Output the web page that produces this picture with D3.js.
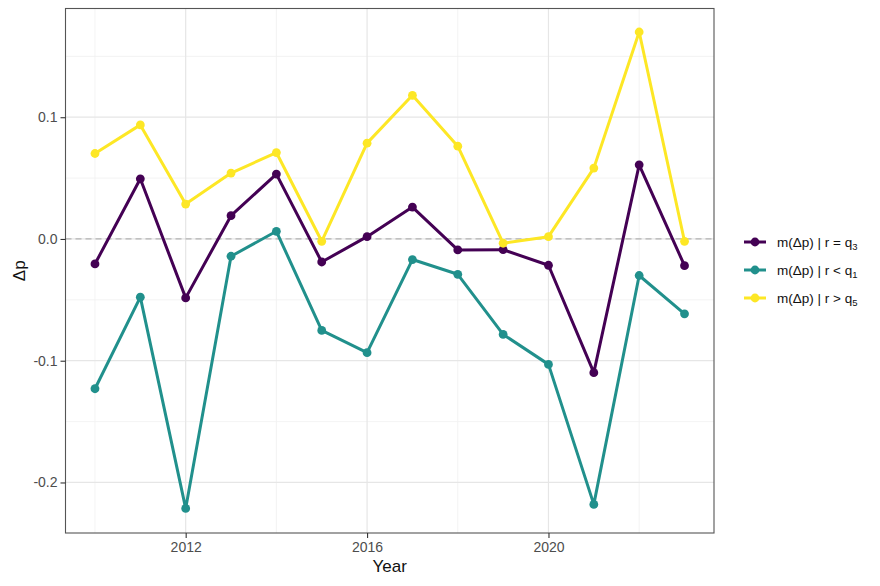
<!DOCTYPE html>
<html><head><meta charset="utf-8">
<script src="https://cdn.jsdelivr.net/npm/d3@7"></script>
<style>body{margin:0;background:#fff}svg{display:block;font-family:"Liberation Sans",Arial,sans-serif}</style>
</head><body>
<svg id="c" width="880" height="586"></svg>
<script>
const years = [2010,2011,2012,2013,2014,2015,2016,2017,2018,2019,2020,2021,2022,2023];
const q3 = [-0.0205,0.0494,-0.0484,0.0191,0.0533,-0.0189,0.0019,0.0262,-0.0090,-0.0088,-0.0216,-0.1098,0.0609,-0.0219];
const q1 = [-0.1230,-0.0478,-0.2213,-0.0142,0.0063,-0.0751,-0.0934,-0.0169,-0.0290,-0.0784,-0.1030,-0.2180,-0.0300,-0.0615];
const q5 = [0.0702,0.0937,0.0287,0.0541,0.0710,-0.0019,0.0787,0.1180,0.0762,-0.0035,0.0019,0.0582,0.1700,-0.0019];
const xTicks = [2012,2016,2020];
const xMinor = [2010,2014,2018,2022];
const yTicks = [-0.2,-0.1,0.0,0.1];
const yMinor = [-0.15,-0.05,0.05,0.15];
const seriesNames = ["q3","q1","q5"];
const seriesSub = ["3","1","5"];
const seriesOp = ["=","<",">"];
const colors = ["#440154","#21908C","#FDE725"];
const seriesVals = [q3,q1,q5];

const svg = d3.select("#c");
const L=65.5, R=714, T=8.5, B=533;
const x = d3.scaleLinear().domain([2009.35,2023.65]).range([L,R]);
const y = d3.scaleLinear().domain([-0.2415,0.1893]).range([B,T]);

const g = svg.append("g");
// minor grid
g.selectAll(".xm").data(xMinor).enter().append("line")
  .attr("x1",d=>x(d)).attr("x2",d=>x(d)).attr("y1",T).attr("y2",B)
  .attr("stroke","#f0f0f0").attr("stroke-width",0.8);
g.selectAll(".ym").data(yMinor).enter().append("line")
  .attr("y1",d=>y(d)).attr("y2",d=>y(d)).attr("x1",L).attr("x2",R)
  .attr("stroke","#f0f0f0").attr("stroke-width",0.8);
// major grid
g.selectAll(".xg").data(xTicks).enter().append("line")
  .attr("x1",d=>x(d)).attr("x2",d=>x(d)).attr("y1",T).attr("y2",B)
  .attr("stroke","#e6e6e6").attr("stroke-width",1.2);
g.selectAll(".yg").data(yTicks).enter().append("line")
  .attr("y1",d=>y(d)).attr("y2",d=>y(d)).attr("x1",L).attr("x2",R)
  .attr("stroke","#e6e6e6").attr("stroke-width",1.2);
// zero dashed
g.append("line").attr("x1",L).attr("x2",R).attr("y1",y(0)).attr("y2",y(0))
  .attr("stroke","#b3b3b3").attr("stroke-width",1.2).attr("stroke-dasharray","6,4");

// series
const line = d3.line().x((d,i)=>x(years[i])).y(d=>y(d));
seriesVals.forEach((vals,k)=>{
  g.append("path").datum(vals).attr("d",line).attr("fill","none")
    .attr("stroke",colors[k]).attr("stroke-width",3).attr("stroke-linejoin","round");
  g.selectAll(".p"+k).data(vals).enter().append("circle")
    .attr("cx",(d,i)=>x(years[i])).attr("cy",d=>y(d)).attr("r",4.4).attr("fill",colors[k]);
});

// panel border
svg.append("rect").attr("x",L).attr("y",T).attr("width",R-L).attr("height",B-T)
  .attr("fill","none").attr("stroke","#555").attr("stroke-width",1.1);

// axes
const xa = svg.append("g").attr("transform",`translate(0,${B})`)
  .call(d3.axisBottom(x).tickValues(xTicks).tickFormat(d3.format("d")).tickSize(5).tickPadding(4));
const ya = svg.append("g").attr("transform",`translate(${L},0)`)
  .call(d3.axisLeft(y).tickValues(yTicks).tickFormat(d=>d.toFixed(1)).tickSize(5).tickPadding(3));
[xa,ya].forEach(a=>{
  a.select(".domain").remove();
  a.selectAll(".tick line").attr("stroke","#333").attr("stroke-width",1.1);
  a.selectAll(".tick text").attr("fill","#4d4d4d").attr("font-size",14).attr("font-family","Liberation Sans, Arial, sans-serif");
});

svg.append("text").attr("x",(L+R)/2).attr("y",572).attr("text-anchor","middle")
  .attr("font-size",17).attr("fill","#111").text("Year");
svg.append("text").attr("transform",`translate(25,${(T+B)/2}) rotate(-90)`).attr("text-anchor","middle")
  .attr("font-size",17).attr("fill","#111").text("Δp");

// legend
const lg = svg.append("g");
seriesNames.forEach((n,k)=>{
  const yy = 242 + k*28;
  lg.append("line").attr("x1",744).attr("x2",766).attr("y1",yy).attr("y2",yy)
    .attr("stroke",colors[k]).attr("stroke-width",3);
  lg.append("circle").attr("cx",755).attr("cy",yy).attr("r",4.4).attr("fill",colors[k]);
  const t = lg.append("text").attr("x",777).attr("y",yy+5).attr("font-size",13.5).attr("fill","#111");
  t.append("tspan").text(`m(Δp) | r ${seriesOp[k]} q`);
  t.append("tspan").attr("font-size",9.5).attr("dy",3).text(seriesSub[k]);
});
</script>
</body></html>
